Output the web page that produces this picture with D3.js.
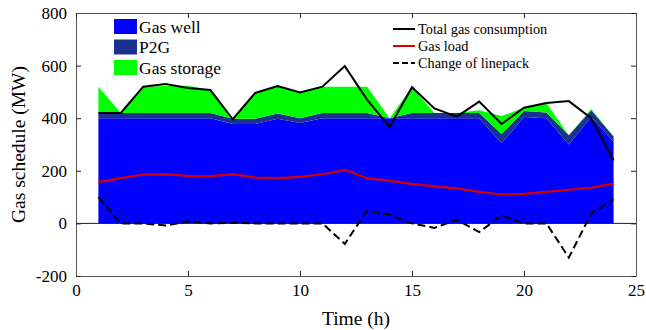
<!DOCTYPE html>
<html>
<head>
<meta charset="utf-8">
<script src="https://cdn.jsdelivr.net/npm/d3@7"></script>
<style>
  html, body { margin: 0; padding: 0; background: #fff; }
  svg { display: block; font-family: "Liberation Serif", "Times New Roman", serif; }
</style>
</head>
<body>
<svg id="chart" width="646" height="330"></svg>
<script>
// Hourly gas schedule (MW), hours 1..24
const hours = d3.range(1, 25);
const gasWell    = [400, 400, 400, 400, 400, 400, 378, 378, 398, 382, 400, 400, 400, 400, 400, 400, 400, 400, 305, 405, 400, 300, 405, 310];
const p2g        = [ 20,  20,  20,  20,  20,  20,  20,  20,  20,  18,  20,  20,  20,   0,  20,  20,  20,  20,  35,  22,  22,  35,  25,  20];
const gasStorage = [100,   0, 100, 102, 103,  87,   0,  98, 104,  98, 100, 100, 100,   0,  98,   0,   0,  10,  68,  13,  36,   0,   5,   0];
const totalGas   = [420, 420, 520, 530, 515, 507, 396, 496, 522, 498, 520, 598, 470, 367, 518, 437, 406, 463, 378, 440, 458, 465, 400, 239];
const gasLoad    = [157, 172, 186, 187, 181, 180, 187, 174, 172, 177, 187, 203, 172, 162, 150, 141, 133, 120, 110, 112, 120, 128, 136, 151];
const linepack   = [100,   0,   0,  -8,   8,   0,   2,   0,   0,   0,   0, -78,  50,  33,   0, -17,  14, -33,  30,   0,   0, -130, 37,  91];

const xTicks = [0, 5, 10, 15, 20, 25];
const yTicks = [-200, 0, 200, 400, 600, 800];

const stackNames  = ["Gas well", "P2G", "Gas storage"];
const stackColors = ["#0000ff", "#1a318f", "#00ff00"];
const lineNames   = ["Total gas consumption", "Gas load", "Change of linepack"];

const svg = d3.select("#chart");
const m = { left: 76, right: 10, top: 13, bottom: 54 };
const W = 646, H = 330;

const x = d3.scaleLinear().domain([0, 25]).range([m.left, W - m.right]);
const y = d3.scaleLinear().domain([-200, 800]).range([H - m.bottom, m.top]);

// stacked supply areas
const rows = hours.map((h, i) => ({ h, "Gas well": gasWell[i], "P2G": p2g[i], "Gas storage": gasStorage[i] }));
const series = d3.stack().keys(stackNames)(rows);

// zero reference line
svg.append("line")
  .attr("x1", x(0)).attr("x2", x(25))
  .attr("y1", y(0)).attr("y2", y(0))
  .attr("stroke", "#222").attr("stroke-width", 1);

const area = d3.area()
  .x(d => x(d.data.h))
  .y0(d => y(d[0]))
  .y1(d => y(d[1]));

svg.append("g").selectAll("path")
  .data(series)
  .join("path")
  .attr("d", area)
  .attr("fill", (d, i) => stackColors[i]);

const line = d3.line().x((d, i) => x(hours[i])).y(d => y(d));

svg.append("path").datum(gasLoad)
  .attr("d", line).attr("fill", "none")
  .attr("stroke", "#d40000").attr("stroke-width", 2.2);

svg.append("path").datum(linepack)
  .attr("d", line).attr("fill", "none")
  .attr("stroke", "#000").attr("stroke-width", 2)
  .attr("stroke-dasharray", "8,4");

svg.append("path").datum(totalGas)
  .attr("d", line).attr("fill", "none")
  .attr("stroke", "#000").attr("stroke-width", 2)
  .attr("stroke-linejoin", "miter");

// frame with inward ticks on all sides
const fmt = d => String(d);
const frame = svg.append("g");
const styleAxis = g => {
  g.select(".domain").attr("stroke", "#555");
  g.selectAll(".tick line").attr("stroke", "#222");
  g.selectAll(".tick text").attr("fill", "#000").attr("font-size", 17)
    .attr("font-family", "Liberation Serif, Times New Roman, serif");
};

frame.append("g")
  .attr("transform", `translate(0,${y(-200)})`)
  .call(d3.axisBottom(x).tickValues(xTicks).tickFormat(fmt).tickSizeInner(-5).tickSizeOuter(0).tickPadding(8))
  .call(styleAxis);

frame.append("g")
  .attr("transform", `translate(${x(0)},0)`)
  .call(d3.axisLeft(y).tickValues(yTicks).tickFormat(fmt).tickSizeInner(-5).tickSizeOuter(0).tickPadding(9))
  .call(styleAxis);

frame.append("g")
  .attr("transform", `translate(0,${y(800)})`)
  .call(d3.axisTop(x).tickValues(xTicks).tickSizeInner(-5).tickSizeOuter(0).tickFormat(""))
  .call(styleAxis);

frame.append("g")
  .attr("transform", `translate(${x(25)},0)`)
  .call(d3.axisRight(y).tickValues(yTicks).tickSizeInner(-5).tickSizeOuter(0).tickFormat(""))
  .call(styleAxis);

// axis titles
svg.append("text")
  .attr("x", (x(0) + x(25)) / 2).attr("y", 325)
  .attr("text-anchor", "middle").attr("font-size", 19.5)
  .text("Time (h)");

svg.append("text")
  .attr("transform", `translate(25,${(y(800) + y(-200)) / 2}) rotate(-90)`)
  .attr("text-anchor", "middle").attr("font-size", 19.5)
  .text("Gas schedule (MW)");

// legend for stacked areas
const lgA = svg.append("g").attr("transform", "translate(114,19)");
stackNames.forEach((name, i) => {
  const g = lgA.append("g").attr("transform", `translate(0,${i * 20.5})`);
  g.append("rect").attr("width", 23).attr("height", 15).attr("fill", stackColors[i]);
  g.append("text").attr("x", 25).attr("y", 13.5).attr("font-size", 17.5).text(name);
});

// legend for lines
const lgB = svg.append("g").attr("transform", "translate(393,29)");
const lineStyles = [
  { color: "#000", dash: null },
  { color: "#d40000", dash: null },
  { color: "#000", dash: "6,3" }
];
lineNames.forEach((name, i) => {
  const g = lgB.append("g").attr("transform", `translate(0,${i * 17})`);
  g.append("line").attr("x1", 0).attr("x2", 22).attr("y1", 0).attr("y2", 0)
    .attr("stroke", lineStyles[i].color).attr("stroke-width", 2)
    .attr("stroke-dasharray", lineStyles[i].dash);
  g.append("text").attr("x", 25).attr("y", 5).attr("font-size", 14.3).text(name);
});
</script>
</body>
</html>
